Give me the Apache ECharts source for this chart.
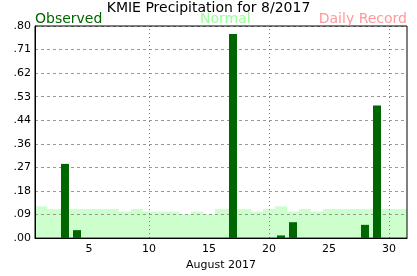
<!DOCTYPE html>
<html>
<head>
<meta charset="utf-8">
<script src="https://cdn.jsdelivr.net/npm/echarts@6/dist/echarts.min.js"></script>
<style>
    html, body { margin: 0; padding: 0; background: #fff; }
    #chart { width: 417px; height: 276px; }
</style>
</head>
<body>
<div id="chart"></div>
<script>
// Günler (Ağustos 2017)
var days = [];
for (var d = 1; d <= 31; d++) days.push(String(d));

// Gözlenen yağış (inç)
var observed = [0, 0, 0.28, 0.03, 0, 0, 0, 0, 0, 0, 0, 0, 0, 0, 0, 0, 0.77, 0, 0, 0,
    0.01, 0.06, 0, 0, 0, 0, 0, 0.05, 0.50, 0, 0];

// Normal değerler
var normal = [0.12, 0.11, 0.11, 0.11, 0.11, 0.11, 0.11, 0.10, 0.11, 0.10, 0.10, 0.10, 0.09, 0.10, 0.09, 0.11,
    0.11, 0.11, 0.10, 0.11, 0.12, 0.10, 0.11, 0.10, 0.11, 0.11, 0.11, 0.11, 0.11, 0.11, 0.11];

var gridDays = ['10', '20', '30']; // dikey noktalı çizgiler

var font = 'DejaVu Sans';
var chart = echarts.init(document.getElementById('chart'));

var option = {
    animation: false,
    backgroundColor: '#fff',
    title: [
        { text: 'KMIE Precipitation for 8/2017', left: 'center', top: 1, padding: 0,
          textStyle: { fontFamily: font, fontSize: 14, fontWeight: 'normal', color: '#000' } },
        { text: 'Observed', left: 35, top: 12, padding: 0,
          textStyle: { fontFamily: font, fontSize: 14, fontWeight: 'normal', color: '#006600' } },
        { text: 'Normal', left: 200, top: 12, padding: 0,
          textStyle: { fontFamily: font, fontSize: 14, fontWeight: 'normal', color: '#99ff99' } },
        { text: 'Daily Record', right: 10, top: 12, padding: 0,
          textStyle: { fontFamily: font, fontSize: 14, fontWeight: 'normal', color: '#ff9999' } }
    ],
    grid: {
        left: 35, right: 10, top: 26, bottom: 30,
        show: true, borderColor: '#000', borderWidth: 1, backgroundColor: 'transparent', z: 4
    },
    xAxis: [
        {
            type: 'category',
            data: days,
            boundaryGap: true,
            z: 4,
            axisLine: { lineStyle: { color: '#000', width: 1 } },
            axisTick: { alignWithLabel: true, interval: 0, length: 4, lineStyle: { color: '#000' } },
            axisLabel: {
                interval: function (i) { return (i + 1) % 5 === 0; },
                fontFamily: font, fontSize: 11, color: '#000', margin: 6
            },
            splitLine: { show: false },
            name: 'August 2017',
            nameLocation: 'middle',
            nameGap: 20,
            nameTextStyle: { fontFamily: font, fontSize: 11, color: '#000' }
        },
        {
            type: 'category',
            data: days,
            boundaryGap: true,
            show: false
        }
    ],
    yAxis: {
        type: 'value',
        min: 0,
        max: 0.8,
        interval: 0.8 / 9,
        z: 3,
        axisLine: { show: true, lineStyle: { color: '#000' } },
        axisTick: { show: false },
        axisLabel: {
            fontFamily: font, fontSize: 11, color: '#000', margin: 4,
            formatter: function (v) { return v.toFixed(2).replace(/^0/, ''); }
        },
        splitLine: { show: true, lineStyle: { color: '#999', type: [3, 3], width: 1 } }
    },
    series: [
        {
            name: 'Normal',
            type: 'bar',
            xAxisIndex: 0,
            data: normal,
            barWidth: '100%',
            z: 1,
            silent: true,
            itemStyle: { color: '#ccffcc' },
            markLine: {
                silent: true,
                symbol: 'none',
                z: 3,
                label: { show: false },
                lineStyle: { color: '#777', type: [1, 3], width: 1 },
                data: gridDays.map(function (d) { return { xAxis: d }; })
            }
        },
        {
            name: 'Observed',
            type: 'bar',
            xAxisIndex: 1,
            data: observed,
            barWidth: 8,
            z: 5,
            itemStyle: { color: '#006600' }
        }
    ]
};

chart.setOption(option);
</script>
</body>
</html>
